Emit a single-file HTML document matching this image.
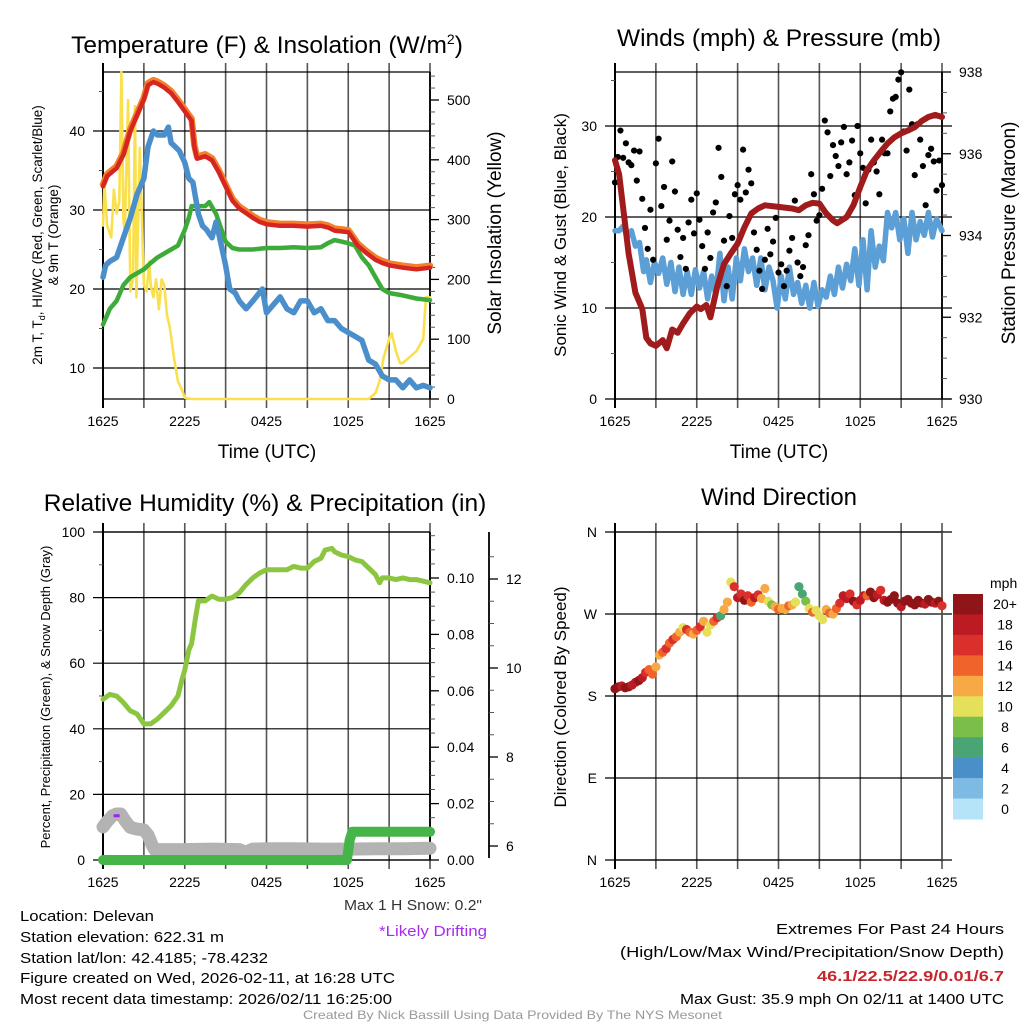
<!DOCTYPE html>
<html><head><meta charset="utf-8"><style>
html,body{margin:0;padding:0;background:#fff;}
svg{display:block;font-family:"Liberation Sans",sans-serif;}
</style></head><body>
<svg id="fig" width="1024" height="1024" viewBox="0 0 1024 1024" xmlns="http://www.w3.org/2000/svg">
<rect x="0" y="0" width="1024" height="1024" fill="#fff"/>
<g id="layer"></g>
<!-- titles -->
<text x="267" y="53" font-size="24.5" text-anchor="middle">Temperature (F) &amp; Insolation (W/m<tspan dy="-9" font-size="14">2</tspan><tspan dy="9">)</tspan></text>
<text x="779" y="46" font-size="24.5" text-anchor="middle">Winds (mph) &amp; Pressure (mb)</text>
<text x="265" y="511" font-size="24.5" text-anchor="middle">Relative Humidity (%) &amp; Precipitation (in)</text>
<text x="779" y="505" font-size="24" text-anchor="middle">Wind Direction</text>
<!-- axis titles -->
<text x="267" y="458" font-size="19" text-anchor="middle">Time (UTC)</text>
<text x="779" y="458" font-size="19" text-anchor="middle">Time (UTC)</text>
<text transform="translate(42,235) rotate(-90)" font-size="13.5" text-anchor="middle">2m T, T<tspan font-size="9" dy="3">d</tspan><tspan dy="-3">, HI/WC (Red, Green, Scarlet/Blue)</tspan></text>
<text transform="translate(58,235) rotate(-90)" font-size="13.5" text-anchor="middle">&amp; 9m T (Orange)</text>
<text transform="translate(501,233) rotate(-90)" font-size="19" text-anchor="middle">Solar Insolation (Yellow)</text>
<text transform="translate(566,235) rotate(-90)" font-size="17" text-anchor="middle">Sonic Wind &amp; Gust (Blue, Black)</text>
<text transform="translate(1015,233) rotate(-90)" font-size="19" text-anchor="middle">Station Pressure (Maroon)</text>
<text transform="translate(50,697) rotate(-90)" font-size="13" text-anchor="middle">Percent, Precipitation (Green), &amp; Snow Depth (Gray)</text>
<text transform="translate(566,697) rotate(-90)" font-size="17" text-anchor="middle">Direction (Colored By Speed)</text>
<!-- footer -->
<g font-size="15">
<text x="20" y="921" textLength="134" lengthAdjust="spacingAndGlyphs">Location: Delevan</text>
<text x="20" y="942" textLength="204" lengthAdjust="spacingAndGlyphs">Station elevation: 622.31 m</text>
<text x="20" y="963" textLength="248" lengthAdjust="spacingAndGlyphs">Station lat/lon: 42.4185; -78.4232</text>
<text x="20" y="983" textLength="375" lengthAdjust="spacingAndGlyphs">Figure created on Wed, 2026-02-11, at 16:28 UTC</text>
<text x="20" y="1004" textLength="372" lengthAdjust="spacingAndGlyphs">Most recent data timestamp: 2026/02/11 16:25:00</text>
</g>
<text x="344" y="910" font-size="15" fill="#333" textLength="138" lengthAdjust="spacingAndGlyphs">Max 1 H Snow: 0.2"</text>
<text x="379" y="936" font-size="15" fill="#a62cf0" textLength="108" lengthAdjust="spacingAndGlyphs">*Likely Drifting</text>
<text x="776" y="934" font-size="15" textLength="228" lengthAdjust="spacingAndGlyphs">Extremes For Past 24 Hours</text>
<text x="620" y="957" font-size="15" textLength="384" lengthAdjust="spacingAndGlyphs">(High/Low/Max Wind/Precipitation/Snow Depth)</text>
<text x="817" y="981" font-size="15" font-weight="bold" fill="#c8262d" textLength="187" lengthAdjust="spacingAndGlyphs">46.1/22.5/22.9/0.01/6.7</text>
<text x="680" y="1004" font-size="15" textLength="324" lengthAdjust="spacingAndGlyphs">Max Gust: 35.9 mph On 02/11 at 1400 UTC</text>
<text x="303" y="1019" font-size="12" fill="#999" textLength="419" lengthAdjust="spacingAndGlyphs">Created By Nick Bassill Using Data Provided By The NYS Mesonet</text>
</svg>
<script>
// ---------- data ----------
const xTickLabels = ["1625","2225","0425","1025","1625"];
const redHours = [0,0.3,1,1.5,2,2.5,3,3.3,3.7,4,4.5,5,5.5,6,6.5,6.7,6.9,7.5,8,8.5,9,9.5,10,10.5,11,11.5,12,13,14,15,16,16.5,17,17.5,18,18.3,18.7,19.3,20,20.5,21,22,23,24];
const redValues = [33,34.3,35.3,37,40,42,44,45.8,46.2,46,45.5,44.8,43.7,42.5,41.3,38,36.5,36.8,36.3,34.8,33,31.2,30.2,29.6,29,28.5,28.2,28,28,27.9,28,27.8,27.4,27.3,27.2,26.5,25.5,24.6,23.7,23.3,23,22.7,22.5,22.7];
const greenHours = [0,0.5,1,1.5,2,2.5,3,3.5,4,4.5,5,5.5,6,6.3,6.5,7,7.5,7.8,8.3,9,9.5,10,11,12,13,14,15,16,16.5,17,17.5,18,18.5,19,19.5,20,20.5,21,22,23,24];
const greenValues = [15.5,17.5,18.5,20.5,21.5,22,22.5,23.3,24,24.5,25,25.5,27.5,29,30.5,30.5,30.5,31,29.5,26,25.2,25,25,25.2,25.2,25.3,25.2,25.3,25.8,26.2,26,25.8,25.5,24,23,21.5,20,19.5,19.2,18.8,18.6];
const blueHours = [0,0.2,0.5,1,1.5,2,2.5,3,3.3,3.7,4,4.5,4.8,5,5.3,5.6,6,6.3,6.6,7,7.3,7.6,8,8.3,8.5,9,9.3,9.7,10,10.5,11,11.7,12,12.5,13,13.5,14,14.5,15,15.5,16,16.5,17,17.5,18,18.5,19,19.5,20,20.5,21,21.5,22,22.5,23,23.5,24];
const blueValues = [21.5,23,23.5,24,26.5,29,32,34,38,40,39.5,39.5,40.5,38.5,38,37.5,36,34,33.5,29.5,28,27.5,26.5,28.5,27,23,20,19.5,18.5,17.5,18.5,20,17,18,19,17.5,17,18.5,18.5,17,17.5,16,16,15,14.5,14,13.5,11,10.5,9,8.5,8.5,7.5,8.5,7.5,7.8,7.5];
const solarHours = [0,0.1,0.3,0.6,0.8,1.0,1.2,1.35,1.5,1.6,1.84,2.0,2.2,2.35,2.45,2.7,3.0,3.2,3.4,3.5,3.7,3.9,4.1,4.3,4.5,4.7,4.9,5.2,5.5,5.8,6,6.5,19.5,20,20.3,20.6,21,21.2,21.5,21.8,22,22.5,23,23.5,23.7,24];
const solarValues = [290,360,290,270,350,310,330,547,300,280,500,180,200,490,170,420,190,180,230,190,170,200,150,200,190,140,120,70,30,15,2,0,0,10,30,70,100,110,80,60,60,70,80,100,170,170];
const presHours = [0,0.3,0.7,1,1.5,2,2.3,2.6,3,3.5,3.8,4.2,4.6,5,5.5,6,6.3,6.7,7,7.5,8,8.5,9,9.5,10,10.5,11,12,13,13.5,14,14.5,15,15.5,16,16.3,17,17.5,18,18.5,19,19.5,20,20.5,21,21.5,22,22.5,23,23.5,24];
const presValues = [935.84,935.5,934.4,933.56,932.6,932.2,931.5,931.36,931.3,931.44,931.24,931.7,931.62,931.85,932.1,932.26,932.2,932.3,932,932.75,933.3,933.56,933.8,934.2,934.54,934.66,934.74,934.7,934.66,934.62,934.74,934.8,934.78,934.54,934.37,934.3,934.45,934.74,935.19,935.6,935.84,936.05,936.25,936.4,936.5,936.57,936.65,936.8,936.9,936.95,936.9];
const windHours = [0,0.3,0.6,0.9,1.2,1.5,1.8,2.1,2.3,2.6,2.9,3.2,3.5,3.8,4.1,4.4,4.7,5,5.3,5.6,5.9,6.2,6.5,6.8,7.1,7.4,7.7,8,8.3,8.6,8.9,9.2,9.5,9.8,10.1,10.4,10.7,11,11.3,11.6,11.9,12.2,12.5,12.8,13.1,13.4,13.7,14,14.3,14.6,14.9,15.2,15.5,15.8,16.1,16.4,16.7,17,17.3,17.6,17.9,18.2,18.5,18.8,19.1,19.4,19.7,20,20.3,20.6,20.9,21.2,21.5,21.8,22.1,22.4,22.7,23,23.3,23.6,24];
const windValues = [18.5,18.5,19,17.8,18.5,16.8,17.2,14,15.3,12.8,15,13.8,15.5,12.6,15,11.8,14.5,11.5,14,11.5,14.2,12.2,14,11,13.5,11.5,16,10.8,14.5,11,15.5,13,16.5,14,15.5,12.5,15.5,12,14.5,13,10,13.5,11,14.5,11.5,12.8,10.5,12.5,10,12.8,10.2,12,11.2,13.5,11.5,14.5,12.2,14.8,13,16.5,12.5,17.5,12,18.5,14.5,16.8,15.2,20.5,18.8,20.5,17.5,19.8,16,20.5,17.5,19.5,18,20.5,17.8,19.8,18.5];
const gustValues = [23.8,26.6,29.5,26.5,28.1, 26,25.7,27.3,24,27.2, 22,18.8,16.5,20.8,15.3, 25.9,28.6,21.2,23.3,17.5, 19.6,26.1,22.8,18.6,15.6, 17.7,14.3,19.4,21.9,18.2, 22.6,19.7,16.8,14.3,18.3, 15.5,20.5,21.6,27.6,24.4, 17.4,12.4,20.1,17.7,22.5, 23.5,21.9,27.4,22.7,25.2, 23.7,18.3,16.4,14.1,12.1, 15.3,18.7,15.9,17.3,19.9, 13.9,14.8,12.4,14.1,16.3, 17.7,21.8,15,13.5,14.5, 16.9,18,24.7,22.5,19.6, 20.2,23.1,30.6,29.3,24.5, 27.9,26.7,25.6,28.2,29.9, 24.7,26,28.4,22.4,30, 27,25.4,21.5,25.2,28.5, 26,25,22.5,28.5,27, 27,31.6,33,33.2,35.1, 35.9,29.4,27.3,34,30.2, 24.6,30.2,28.5,25.6,21.3, 26.8,27.5,26.1,22.9,26.2, 23.5];
const rhHours = [0,0.5,1,1.5,2,2.5,3,3.5,4,4.5,5,5.5,5.8,6,6.3,6.5,6.8,7,7.5,8,8.5,9,9.5,10,10.5,11,11.5,12,12.5,13,13.5,14,14.5,15,15.5,16,16.3,16.8,17,17.5,18,18.5,19,19.5,20,20.3,20.5,21,21.5,22,22.5,23,23.5,24];
const rhValues = [49,50.5,50,48,45.5,44.5,41.5,41.5,43,45,47,50,55,58,64,66,74,79,79,80.5,79.5,79.5,80,81.5,84,86,87.5,88.5,88.5,88.5,88.5,89.5,89,89,91,92,94.5,95,94,93,92.5,91.5,91,89,87,84.5,86,86,85.5,86,85.5,85.5,85,84.5];
const precipHours = [0,17.9,18.0,18.1,18.3,24];
const precipValues = [0,0,0.0035,0.007,0.01,0.01];
const snowHours = [0,0.3,0.7,1,1.3,1.6,2,2.5,3,3.3,3.6,3.8,4,6,8,10,10.5,11,12,14,16,18,20,22,24];
const snowValues = [6.43,6.55,6.68,6.72,6.72,6.58,6.42,6.38,6.36,6.25,6.02,5.92,5.92,5.92,5.93,5.92,5.86,5.93,5.94,5.94,5.93,5.93,5.94,5.94,5.95];
const driftHours = [1];
const driftValues = [6.68];
const dirValues = [188,190,191,189,190,192,195,197,200, 206,209,204,212,225,228,232,238, 242,245,250,255,253,250,248,252, 256,262,250,258,262,266,268,275, 283,305,300,288,292,285,290,283, 288,291,287,298,284,280,278,275, 276,275,279,280,283,300,292,284, 276,272,274,268,264,275,271,270, 276,282,290,287,292,284,280,285, 290,290,294,288,291,296,285,283, 286,290,282,278,284,286,282,280, 285,282,281,286,283,282,284,279];
const dirSpeeds = [20,20,19,20,20,19,18,20,18, 16,14,14,12,12,14,16,14, 16,15,12,11,16,14,12,15, 16,12,10,11,14,16,7,13, 12,10,16,18,16,20,16,14, 18,16,12,13,10,8,12,14, 12,13,14,12,10,7,7,8, 10,14,11,10,10,12,14,12, 14,16,18,18,16,20,16,18, 18,14,20,20,18,16,18,20, 20,20,20,18,20,20,20,20, 20,20,18,20,20,18,20,16];
const speedBinLabels = ["0","2","4","6","8","10","12","14","16","18","20+"];
const speedBinColors = ["#b5e3f7","#7dbbe5","#4a8fc8","#4aa574","#7bbf4a","#e5e05a","#f6a944","#f0642c","#d9302b","#bc1b23","#8f1518"];

// ---------- helpers ----------
const NS = "http://www.w3.org/2000/svg";
const layer = document.getElementById("layer");
function mk(tag, attrs, parent){ const e=document.createElementNS(NS,tag); for(const k in attrs) e.setAttribute(k,attrs[k]); (parent||layer).appendChild(e); return e; }
const PW = 327;
function xAt(x0,h){ return x0 + h/24*PW; }
function pathFrom(x0, hours, vals, yf){ let d=""; for(let i=0;i<hours.length;i++){ d += (i?"L":"M")+xAt(x0,hours[i]).toFixed(1)+","+yf(vals[i]).toFixed(1);} return d; }

function frame(x0,y0,y1,name){
  const g = mk("g",{});
  
  
  for(let i=0;i<=8;i++){
    const x = x0 + i*PW/8;
    const l = mk("line",{x1:x,y1:y0-9,x2:x,y2:y1+9,stroke:i===0?"#000":"#555","stroke-width":i===0?2:1.6},g);
    
    
  }
  for(let i=0;i<xTickLabels.length;i++){
    const t = mk("text",{x:x0+i*PW/4,y:y1+27,"font-size":14,"text-anchor":"middle"},g);
    t.textContent = xTickLabels[i];
    
    
  }
  mk("line",{x1:x0,y1:y0,x2:x0+PW,y2:y0,stroke:"#000","stroke-width":1.3},g);
  mk("line",{x1:x0,y1:y1,x2:x0+PW,y2:y1,stroke:"#000","stroke-width":1.3},g);
  return g;
}
function hGrid(g,x0,y,label,extendRight){
  const l = mk("line",{x1:x0-10,y1:y,x2:x0+PW+(extendRight||0),y2:y,stroke:"#000","stroke-width":1.2},g);
  
  
  const t = mk("text",{x:x0-18,y:y+5,"font-size":14,"text-anchor":"end"},g);
  t.textContent = label;
  
  
}
function minorL(g,x0,y){ mk("line",{x1:x0-4,y1:y,x2:x0,y2:y,stroke:"#555","stroke-width":1},g); }
function rightAxis(g,xa,y0,y1,majors,minors,name){
  const ax = mk("line",{x1:xa,y1:y0,x2:xa,y2:y1,stroke:"#000","stroke-width":1.8},g);
  
  
  minors.forEach(y=>mk("line",{x1:xa,y1:y,x2:xa+5,y2:y,stroke:"#555","stroke-width":1},g));
  majors.forEach(m=>{
    mk("line",{x1:xa,y1:m.y,x2:xa+9,y2:m.y,stroke:"#000","stroke-width":1.3},g);
    const t = mk("text",{x:xa+17,y:m.y+5,"font-size":14},g);
    t.textContent = m.label;
    
    
  });
}
function series(d,color,w,name){
  const p = mk("path",{d:d,fill:"none",stroke:color,"stroke-width":w,"stroke-linejoin":"round","stroke-linecap":"round"});
  
  
  return p;
}

// ---------- panel 1: temperature ----------
(function(){
  const x0=103,y0=72,y1=399;
  const yL = v => 399 - (v-6.08)*7.9;
  const yR = v => 399 - v*0.598;
  const g = frame(x0,y0,y1,"temperature");
  [10,20,30,40].forEach(v=>hGrid(g,x0,yL(v),String(v)));
  [15,25,35,45].forEach(v=>minorL(g,x0,yL(v)));
  const maj=[],mn=[];
  for(let v=0;v<=540;v+=20){ if(v%100===0) maj.push({y:yR(v),label:String(v)}); else mn.push(yR(v)); }
  rightAxis(g,x0+PW,y0,y1,maj,mn,"insolation-axis");
  series(pathFrom(x0,solarHours,solarValues,yR),"#fbe04e",2.6,"solar-insolation-line");
  series(pathFrom(x0,greenHours,greenValues,yL),"#3dab3a",4.5,"dewpoint-line");
  series(pathFrom(x0,blueHours,blueValues,yL),"#4a8fcb",5.5,"wind-chill-line");
  series(pathFrom(x0,redHours,redValues.map(v=>v+0.25),yL),"#f3812b",6.5,"temp-9m-line");
  series(pathFrom(x0,redHours,redValues,yL),"#d62621",4.5,"temp-2m-line");
})();

// ---------- panel 2: winds ----------
(function(){
  const x0=615,y0=72,y1=399;
  const yL = v => 399 - v*9.1;
  const yP = p => 399 - (p-930)*40.875;
  const g = frame(x0,y0,y1,"winds");
  [0,10,20,30].forEach(v=>hGrid(g,x0,yL(v),String(v),10));
  [5,15,25,35].forEach(v=>minorL(g,x0,yL(v)));
  const maj=[],mn=[];
  for(let i=0;i<=16;i++){ const p=930+i*0.5; if(i%4===0) maj.push({y:yP(p),label:String(p)}); else mn.push(yP(p)); }
  rightAxis(g,x0+PW,y0,y1,maj,mn,"pressure-axis");
  series(pathFrom(x0,windHours,windValues,yL),"#5b9fd6",5.5,"sustained-wind-line");
  const n = gustValues.length;
  for(let i=0;i<n;i++){
    const c = mk("circle",{cx:xAt(x0,i*24/(n-1)),cy:yL(gustValues[i]),r:3.1,fill:"#000"});
    
    
  }
  series(pathFrom(x0,presHours,presValues,yP),"#a01b1b",6,"pressure-line");
})();

// ---------- panel 3: humidity ----------
(function(){
  const x0=103,y0=532,y1=860;
  const yL = v => 860 - v*3.28;
  const yPr = v => 860 - v*2820;
  const yS = s => 846 - (s-6)*44.5;
  const g = frame(x0,y0,y1,"humidity");
  [0,20,40,60,80,100].forEach(v=>hGrid(g,x0,yL(v),String(v)));
  [10,30,50,70,90].forEach(v=>minorL(g,x0,yL(v)));
  const maj=[],mn=[];
  for(let i=0;i<=23;i++){ const v=i*0.005; if(i%4===0) maj.push({y:yPr(v),label:v.toFixed(2)}); else mn.push(yPr(v)); }
  rightAxis(g,x0+PW,y0,y1,maj,mn,"precip-axis");
  const smaj=[],smn=[];
  for(let s=5.9;s<=12.7;s+=0.5){ const r=Math.round(s*2)/2; if(r<5.9) continue; if(r%2===0) smaj.push({y:yS(r),label:String(r)}); else smn.push(yS(r)); }
  rightAxis(g,489,y0,858,smaj,smn,"snow-depth-axis");
  series(pathFrom(x0,snowHours,snowValues,yS),"#b3b3b3",13,"snow-depth-line");
  series(pathFrom(x0,precipHours,precipValues,yPr),"#45b449",10,"precipitation-line");
  series(pathFrom(x0,rhHours,rhValues,yL),"#8cc640",5,"relative-humidity-line");
  for(let i=0;i<driftHours.length;i++){
    const r = mk("rect",{x:xAt(x0,driftHours[i])-3,y:yS(driftValues[i])-1.5,width:6,height:3,fill:"#a020f0"});
    
    
  }
})();

// ---------- panel 4: wind direction ----------
(function(){
  const x0=615,y0=532,y1=860;
  const yD = d => 860 - d/360*328;
  const g = frame(x0,y0,y1,"direction");
  const dirLabels = ["N","E","S","W","N"];
  for(let i=0;i<5;i++){ hGrid(g,x0,yD(i*90),dirLabels[i],10); }
  mk("line",{x1:x0+PW,y1:y0,x2:x0+PW,y2:y1,stroke:"#555","stroke-width":1.6},g);
  const n = dirValues.length;
  for(let i=0;i<n;i++){
    const b = Math.min(10, Math.floor(dirSpeeds[i]/2));
    const c = mk("circle",{cx:xAt(x0,i*24/(n-1)),cy:yD(dirValues[i]),r:4.6,fill:speedBinColors[b]});
    
    
  }
  // colorbar
  const cb = mk("g",{});
  
  
  const t0 = mk("text",{x:990,y:588,"font-size":14},cb);
  t0.textContent = "mph";
  
  
  const bh = 225/11;
  for(let i=0;i<11;i++){
    const k = 10-i;
    const r = mk("rect",{x:953,y:594+i*bh,width:30,height:bh+0.5,fill:speedBinColors[k]},cb);
    
    
    const t = mk("text",{x:1005,y:594+i*bh+bh/2+5,"font-size":14,"text-anchor":"middle"},cb);
    t.textContent = speedBinLabels[k];
    
    
  }
})();
</script>
</body></html>
